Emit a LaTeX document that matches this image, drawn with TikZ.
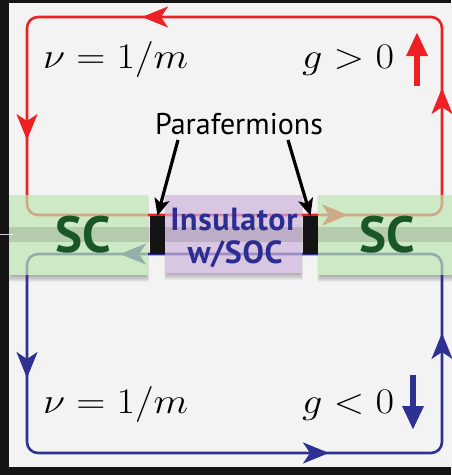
\RequirePackage{fix-cm}
\documentclass[tikz,border=0pt]{standalone}
\usepackage{graphicx}
\usepackage{fontspec}
\setsansfont{PT Sans}
\usetikzlibrary{arrows.meta}
\definecolor{bgc}{RGB}{243,243,243}
\definecolor{redc}{RGB}{237,32,36}
\definecolor{bluec}{RGB}{46,49,146}
\definecolor{greenc}{RGB}{191,229,179}
\definecolor{purpc}{RGB}{206,179,220}
\definecolor{scgreen}{RGB}{25,88,38}
\definecolor{insblue}{RGB}{43,46,145}
\tikzset{
  edgeloop/.style={line width=2.6pt, rounded corners=11pt},
  looptip/.style={line width=2.6pt, -{Stealth[length=26pt,width=21pt,inset=7pt]}},
  fattip/.style={line width=6.5pt, -{Triangle[length=24pt,width=20pt]}},
  blktip/.style={line width=3.2pt, black, -{Stealth[length=17pt,width=15pt,inset=4pt]}},
  pfbox/.style={fill=black!92, minimum width=15pt, minimum height=38pt, inner sep=0pt, draw=none},
  sclabel/.style={font=\sffamily\bfseries\fontsize{51}{53}\selectfont, text=scgreen, inner sep=0pt},
  inslabel/.style={font=\sffamily\bfseries\fontsize{32}{34}\selectfont\addfontfeature{LetterSpace=2}, text=insblue, inner sep=0pt},
  mathlabel/.style={font=\fontsize{36}{40}\selectfont, inner sep=0pt},
  paralabel/.style={font=\sffamily\fontsize{30}{32}\selectfont, inner sep=0pt},
}
\newcommand{\widemath}[1]{\scalebox{1.12}[1]{$#1$}}
\newcommand{\softshadow}[4]{%
  \foreach \s in {0,1,...,6}{
    \fill[black, opacity=0.045] ({#1+2-\s*0.5},{#2+2}) rectangle ({#3-2+\s*0.5},{#4+1+\s});
  }%
}
\begin{document}
\begin{tikzpicture}[x=1pt,y=-1pt]
\useasboundingbox (0,0) rectangle (451,475);
% frame
\fill[black!92] (0,0) rectangle (451,475);
\fill[bgc] (9,3) rectangle (452,467);
% shadows
\softshadow{9}{195}{148}{275}
\softshadow{318}{195}{453}{275}
\softshadow{165}{195}{302}{273}
\fill[bgc] (9,195) rectangle (148,275);
\fill[bgc] (318,195) rectangle (452,275);
\fill[bgc] (165,195) rectangle (302,273);
% edge loops
\draw[edgeloop, redc] (442,215) -- (442,17) -- (27,17) -- (27,215) -- cycle;
\draw[edgeloop, bluec] (27,254) -- (27,453) -- (442,453) -- (442,254) -- cycle;
\draw[looptip, redc] (175,17) -- (142,17);
\draw[looptip, redc] (27,108) -- (27,140);
\draw[looptip, redc] (442,120) -- (442,88);
\draw[looptip, redc] (315,215) -- (348,215);
\draw[looptip, bluec] (27,346) -- (27,378);
\draw[looptip, bluec] (296,453) -- (329,453);
\draw[looptip, bluec] (442,365) -- (442,333);
\draw[looptip, bluec] (152,254) -- (120,254);
% overlays
\fill[greenc, opacity=0.7] (9,195) rectangle (148,275);
\fill[greenc, opacity=0.7] (318,195) rectangle (452,275);
\fill[purpc, opacity=0.7] (165,195) rectangle (302,273);
\fill[black, opacity=0.12] (9,227) rectangle (452,242);
\draw[white, opacity=0.8, line width=1.5pt] (0,234.5) -- (13,234.5);
% parafermion boxes
\node[pfbox] (pfL) at (157.5,235) {};
\node[pfbox] (pfR) at (310.5,235) {};
% labels
\node[sclabel] (scL) at (83,235) {SC};
\node[sclabel] (scR) at (387,235) {SC};
\node[inslabel, anchor=base] (ins1) at (234,230) {Insulator};
\node[inslabel, anchor=base] (ins2) at (235,263) {w/SOC};
\node[paralabel, anchor=base] (para) at (239,134) {Parafermions};
\node[mathlabel, anchor=base west] (nuT) at (43,68) {\widemath{\nu=1/m}};
\node[mathlabel, anchor=base west] (gT) at (302,68) {\widemath{g>0}};
\node[mathlabel, anchor=base west] (nuB) at (43,413) {\widemath{\nu=1/m}};
\node[mathlabel, anchor=base west] (gB) at (302,413) {\widemath{g<0}};
% spin arrows
\coordinate (upS) at (417,86);
\coordinate (upE) at (417,32);
\coordinate (dnS) at (413,375);
\coordinate (dnE) at (413,430);
\draw[fattip, redc] (upS) -- (upE);
\draw[fattip, bluec] (dnS) -- (dnE);
% parafermion pointers
\coordinate (paL) at (178,140);
\coordinate (paR) at (288,140);
\draw[blktip] (paL) -- (pfL.north);
\draw[blktip] (paR) -- (pfR.north);
\end{tikzpicture}
\end{document}
